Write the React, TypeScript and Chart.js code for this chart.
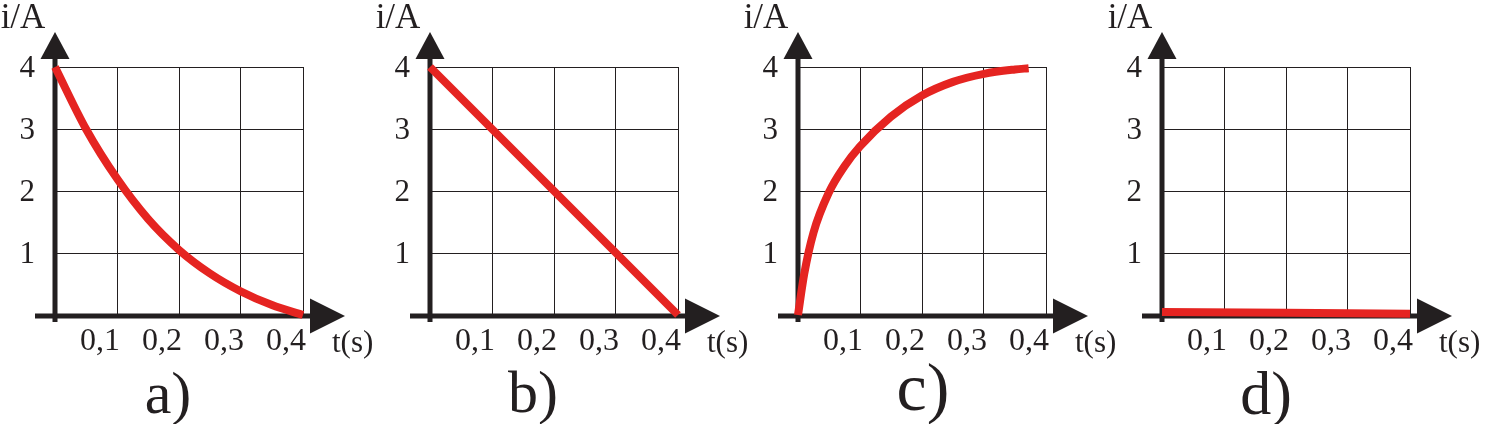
import React, { useEffect, useRef } from 'react';
import { Chart, registerables } from 'chart.js';

Chart.register(...registerables);

const INK = '#231f20';
const RED = '#e52421';
const FONT = '"Liberation Serif"';

// ---- data ----
const xTicks = [0, 0.1, 0.2, 0.3, 0.4];
const yTicks = [0, 1, 2, 3, 4];
const xTickLabels = ['', '0,1', '0,2', '0,3', '0,4'];
const yTickLabels = ['', '1', '2', '3', '4'];
const xTitle = 't(s)';
const yTitle = 'i/A';
const panelNames = ['a)', 'b)', 'c)', 'd)'];

const tA = [0, 0.05, 0.1, 0.15, 0.2, 0.25, 0.3, 0.35, 0.4];
const iA = [4, 3.0, 2.2, 1.55, 1.05, 0.67, 0.38, 0.16, 0];
const tB = [0, 0.4];
const iB = [4, 0];
const tC = [0, 0.01, 0.025, 0.05, 0.075, 0.1, 0.15, 0.2, 0.25, 0.3, 0.35, 0.372];
const iC = [0, 0.66, 1.33, 1.98, 2.4, 2.72, 3.2, 3.54, 3.76, 3.89, 3.96, 3.98];
const tD = [0, 0.4];
const iD = [0.05, 0.02];

const seriesT = [tA, tB, tC, tD];
const seriesI = [iA, iB, iC, iD];

// ---- layout (positions / styles) ----
const panelLayout = [
  { left: 0, width: 372, labelDx: 113, labelBase: 413, labelSize: 60 },
  { left: 375, width: 372, labelDx: 103, labelBase: 412, labelSize: 60 },
  { left: 743, width: 372, labelDx: 125, labelBase: 410, labelSize: 68 },
  { left: 1107, width: 381, labelDx: 104, labelBase: 414, labelSize: 62 },
];
const H = 424;
const AREA_RIGHT = 303;
const AREA_TOP = 67;
const AREA_BOTTOM = 315;

const decorPlugin = {
  id: 'decor',
  beforeDatasetsDraw(chart: any) {
    const { ctx, chartArea } = chart;
    const { right, top } = chartArea;
    const x0 = chart.scales.x.getPixelForValue(0);
    const y0 = chart.scales.y.getPixelForValue(0) + 1;
    ctx.save();
    ctx.fillStyle = INK;
    ctx.fillRect(x0 - 20, y0 - 2.5, right + 8 - (x0 - 20), 5);
    ctx.beginPath();
    ctx.moveTo(right + 7, y0 - 17.5);
    ctx.lineTo(right + 42, y0);
    ctx.lineTo(right + 7, y0 + 17.5);
    ctx.closePath();
    ctx.fill();
    ctx.fillRect(x0 - 2.5, top - 9, 5, y0 + 6 - (top - 9));
    ctx.beginPath();
    ctx.moveTo(x0 - 14.5, top - 8);
    ctx.lineTo(x0, top - 35);
    ctx.lineTo(x0 + 14.5, top - 8);
    ctx.closePath();
    ctx.fill();
    ctx.restore();
  },
  afterDraw(chart: any, _args: any, opts: any) {
    const { ctx, chartArea } = chart;
    const x0 = chart.scales.x.getPixelForValue(0);
    ctx.save();
    ctx.fillStyle = INK;
    ctx.textBaseline = 'alphabetic';
    ctx.font = `35px ${FONT}`;
    ctx.textAlign = 'center';
    ctx.fillText(yTitle, x0 - 32, 28);
    ctx.font = `31px ${FONT}`;
    ctx.textAlign = 'left';
    ctx.fillText(xTitle, chartArea.right + 29, 352);
    ctx.font = `${opts.labelSize}px ${FONT}`;
    ctx.textAlign = 'center';
    ctx.fillText(opts.name, x0 + opts.labelDx, opts.labelBase);
    ctx.restore();
  },
};

function Panel({ idx }: { idx: number }) {
  const ref = useRef<HTMLCanvasElement | null>(null);
  const lay = panelLayout[idx];
  useEffect(() => {
    if (!ref.current) return;
    const data = seriesT[idx].map((t, k) => ({ x: t, y: seriesI[idx][k] }));
    const chart = new Chart(ref.current, {
      type: 'line',
      data: {
        datasets: [
          {
            data,
            borderColor: RED,
            borderWidth: 8,
            pointRadius: 0,
            fill: false,
            cubicInterpolationMode: 'monotone',
            borderCapStyle: 'butt',
            clip: false,
          } as any,
        ],
      },
      options: {
        responsive: false,
        animation: false,
        events: [],
        layout: {
          padding: { left: 0, top: AREA_TOP, right: lay.width - AREA_RIGHT, bottom: 0 },
        },
        plugins: {
          legend: { display: false },
          tooltip: { enabled: false },
          title: { display: false },
          decor: {
            name: panelNames[idx],
            labelDx: lay.labelDx,
            labelBase: lay.labelBase,
            labelSize: lay.labelSize,
          },
        } as any,
        scales: {
          x: {
            type: 'linear',
            min: 0,
            max: 0.4,
            afterBuildTicks: (s: any) => {
              s.ticks = xTicks.map((v) => ({ value: v }));
            },
            afterFit: (s: any) => {
              s.height = H - AREA_BOTTOM;
            },
            ticks: {
              autoSkip: false,
              maxRotation: 0,
              minRotation: 0,
              labelOffset: -17,
              padding: 7,
              color: INK,
              font: { family: FONT, size: 32 },
              callback: (_v: any, i: number) => xTickLabels[i],
            },
            grid: { color: INK, lineWidth: 1, drawTicks: false },
            border: { display: false },
          },
          y: {
            type: 'linear',
            min: 0,
            max: 4,
            afterBuildTicks: (s: any) => {
              s.ticks = yTicks.map((v) => ({ value: v }));
            },
            afterFit: (s: any) => {
              s.width = 55;
            },
            ticks: {
              autoSkip: false,
              labelOffset: 2,
              padding: 20,
              color: INK,
              font: { family: FONT, size: 31 },
              callback: (_v: any, i: number) => yTickLabels[i],
            },
            grid: { color: INK, lineWidth: 1, drawTicks: false },
            border: { display: false },
          },
        },
      } as any,
      plugins: [decorPlugin],
    });
    return () => {
      chart.destroy();
    };
  }, [idx]);
  return (
    <canvas
      ref={ref}
      width={lay.width}
      height={H}
      style={{ position: 'absolute', left: lay.left, top: 0, width: lay.width, height: H }}
    />
  );
}

export default function App() {
  return (
    <div
      style={{
        position: 'absolute',
        left: 0,
        top: 0,
        width: 1488,
        height: H,
        background: '#ffffff',
        overflow: 'hidden',
      }}
    >
      {panelNames.map((_, i) => (
        <Panel key={i} idx={i} />
      ))}
    </div>
  );
}
